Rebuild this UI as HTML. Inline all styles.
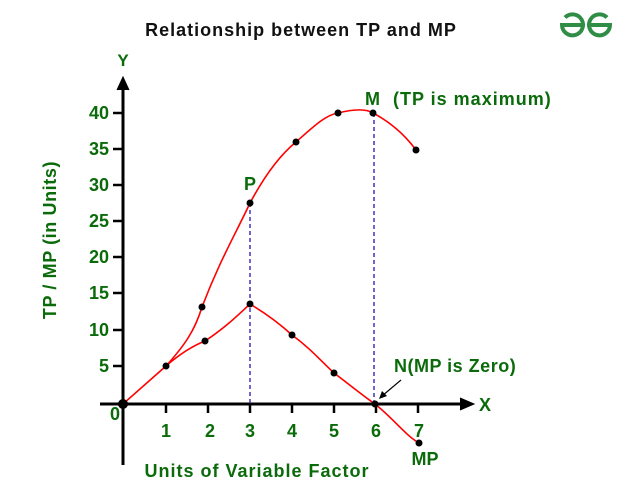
<html><body style="margin:0;background:#fff">
<svg width="641" height="500" viewBox="0 0 641 500" xmlns="http://www.w3.org/2000/svg" font-family="Liberation Sans, sans-serif" font-weight="bold">
<rect width="641" height="500" fill="#fff"/>
<text x="301" y="36" font-size="18" letter-spacing="1" text-anchor="middle" fill="#111">Relationship between TP and MP</text>
<g fill="none" stroke="#2f8d46" stroke-width="4">
<path d="M584 25 H562 A10.5 10.5 0 1 0 565 17.5"/>
<path d="M588 25 H610 A10.5 10.5 0 1 1 607 17.5"/>
</g>
<text x="123" y="66" font-size="17" fill="#0b6b0b" text-anchor="middle">Y</text>
<g stroke="#000" stroke-width="3" fill="none">
<line x1="123" y1="85" x2="123" y2="465"/>
<line x1="100" y1="404" x2="465" y2="404"/>
<path d="M117 90 L123 77 L129 90" fill="#000" stroke-width="1"/>
<path d="M460 398 L474 404 L460 410" fill="#000" stroke-width="1"/>
<g stroke-width="2.5">
<line x1="113" y1="113" x2="123" y2="113"/><line x1="113" y1="149" x2="123" y2="149"/><line x1="113" y1="185" x2="123" y2="185"/><line x1="113" y1="221" x2="123" y2="221"/><line x1="113" y1="257" x2="123" y2="257"/><line x1="113" y1="293" x2="123" y2="293"/><line x1="113" y1="330" x2="123" y2="330"/><line x1="113" y1="366" x2="123" y2="366"/>
<line x1="166" y1="404" x2="166" y2="413"/><line x1="208" y1="404" x2="208" y2="413"/><line x1="250" y1="404" x2="250" y2="413"/><line x1="292" y1="404" x2="292" y2="413"/><line x1="334" y1="404" x2="334" y2="413"/><line x1="376" y1="404" x2="376" y2="413"/><line x1="418" y1="404" x2="418" y2="413"/>
</g></g>
<g font-size="18" fill="#0b6b0b" text-anchor="end">
<text x="109" y="119">40</text><text x="109" y="155">35</text><text x="109" y="191">30</text><text x="109" y="227">25</text><text x="109" y="263">20</text><text x="109" y="299">15</text><text x="109" y="336">10</text><text x="109" y="372">5</text>
</g>
<g font-size="18" fill="#0b6b0b" text-anchor="middle">
<text x="115" y="420">0</text>
<text x="166" y="437">1</text><text x="210" y="437">2</text><text x="250" y="437">3</text><text x="292" y="437">4</text><text x="334" y="437">5</text><text x="376" y="437">6</text><text x="419" y="437">7</text>
<text x="485" y="411">X</text>
<text x="425" y="465">MP</text>
<text x="257" y="477" font-size="18" letter-spacing="1">Units of Variable Factor</text>
<text x="250" y="190">P</text>
<text transform="translate(56,240) rotate(-90)" font-size="18" letter-spacing="0.6">TP / MP (in Units)</text>
</g>
<text x="365" y="105" font-size="18" letter-spacing="1" fill="#0b6b0b" xml:space="preserve">M  (TP is maximum)</text>
<text x="394" y="372" font-size="18" letter-spacing="0.5" fill="#0b6b0b">N(MP is Zero)</text>
<g stroke="#4433bb" stroke-width="1.5" stroke-dasharray="4,3">
<line x1="250" y1="203" x2="250" y2="404"/><line x1="374" y1="113" x2="374" y2="404"/>
</g>
<g fill="none" stroke="#f00" stroke-width="1.6">
<path d="M123 404 L166 366 C185 345 195 330 202 307 C220 260 235 235 250 203 C265 175 280 155 296 142 C312 128 325 115 338 113 C350 110 365 108 373 113 C390 122 405 135 416 150"/>
<path d="M166 366 C182 352 195 345 205 341 C225 328 238 315 250 304 C265 313 280 324 292 335 C310 348 322 362 334 373 C350 385 362 395 375 404 C395 420 405 435 419 443"/>
</g>
<g fill="#000">
<circle cx="123" cy="404" r="5"/>
<circle cx="166" cy="366" r="3.5"/><circle cx="202" cy="307" r="3.5"/><circle cx="250" cy="203" r="3.5"/><circle cx="296" cy="142" r="3.5"/><circle cx="338" cy="113" r="3.5"/><circle cx="373" cy="113" r="3.5"/><circle cx="416" cy="150" r="3.5"/>
<circle cx="205" cy="341" r="3.5"/><circle cx="250" cy="304" r="3.5"/><circle cx="292" cy="335" r="3.5"/><circle cx="334" cy="373" r="3.5"/><circle cx="375" cy="404" r="3.5"/><circle cx="419" cy="443" r="3.5"/>
</g>
<line x1="401" y1="380" x2="382" y2="396" stroke="#000" stroke-width="1.2"/>
<path d="M379 399 L382 391 L387 396 Z" fill="#000"/>
</svg>
</body></html>
